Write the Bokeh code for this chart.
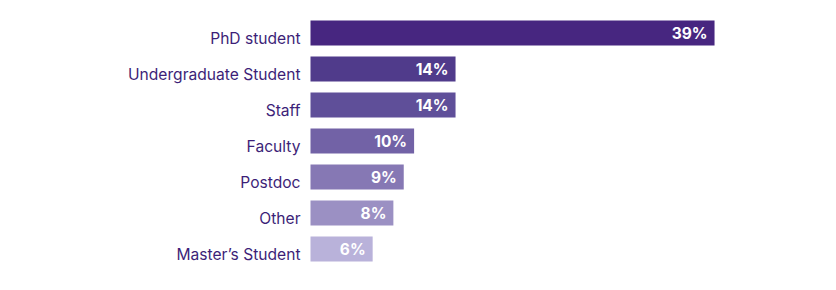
from bokeh.plotting import figure
from bokeh.models import ColumnDataSource, Range1d
from bokeh.core.properties import value
from bokeh.embed import file_html
from bokeh.resources import INLINE

categories = ["PhD student", "Undergraduate Student", "Staff", "Faculty",
              "Postdoc", "Other", "Master\u2019s Student"]
values = [39, 14, 14, 10, 9, 8, 6]
value_labels = ["39%", "14%", "14%", "10%", "9%", "8%", "6%"]
colors = ["#472680", "#503b8b", "#5f4f99", "#7262a6", "#8678b4", "#9b90c3", "#b9b2da"]

n = len(categories)
ypos = [n - 1 - i for i in range(n)]
src = ColumnDataSource(dict(cat=categories, val=values, lab=value_labels,
                            col=colors, y=ypos, zero=[0] * n))

W, H = 836, 290
left_px = 310
px_per = 10.36
pitch = 36

p = figure(width=W, height=H, output_backend="svg", toolbar_location=None,
           x_range=Range1d(-left_px / px_per, (W - left_px) / px_per),
           y_range=Range1d(-41.5 / pitch, (n - 1) + 32.5 / pitch),
           min_border=0, outline_line_color=None)
p.axis.visible = False
p.grid.visible = False
p.background_fill_color = "white"
p.border_fill_color = "white"

p.hbar(y="y", left=0, right="val", height=25 / pitch, fill_color="col",
       line_color=None, source=src)

p.text(x="zero", y="y", text="cat", source=src, text_align="right",
       text_baseline="middle", x_offset=-10, y_offset=5,
       text_color="#3d1f78", text_font=value("Inter"), text_font_size="15.6px")

p.text(x="val", y="y", text="lab", source=src, text_align="right",
       text_baseline="middle", x_offset=-7, y_offset=0,
       text_color="white", text_font=value("Inter"), text_font_size="15.5px",
       text_font_style="bold")

open("out.html", "w").write(file_html(p, INLINE))
